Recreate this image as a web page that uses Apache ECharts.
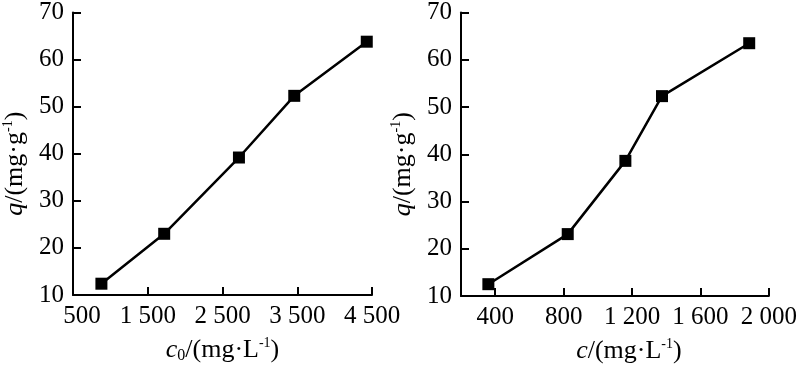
<!DOCTYPE html>
<html><head><meta charset="utf-8">
<script src="https://cdn.jsdelivr.net/npm/echarts@6/dist/echarts.min.js"></script>
<style>html,body{margin:0;padding:0;background:#fff}#c{width:800px;height:369px}</style>
</head><body><div id="c"></div>
<script>
// Left panel: q vs initial concentration c0
var c0Values = [880, 1720, 2720, 3460, 4430];
var qLeft = [12.4, 23.0, 39.2, 52.3, 63.8];
// Right panel: q vs equilibrium concentration c
var cValues = [360, 824, 1161, 1375, 1885];
var qRight = [12.5, 23.1, 38.6, 52.3, 63.5];
// Tick labels
var leftXTicks = [500, 1500, 2500, 3500, 4500];
var rightXTicks = [400, 800, 1200, 1600, 2000];
var yTicks = [10, 20, 30, 40, 50, 60, 70];

function fmt(v){ var s = String(v); return s.length > 3 ? s.slice(0, s.length-3) + ' ' + s.slice(-3) : s; }
function fmtLeft(v){ return v === leftXTicks[0] ? '{first|' + fmt(v) + '}' : fmt(v); }

var FONT = 'Liberation Serif';
var axisLine = {show:true, onZero:false, lineStyle:{color:'#000', width:2}};
var axisTick = {show:true, inside:true, length:8, lineStyle:{color:'#000', width:2}};
function lbl(extra){
  return Object.assign({color:'#000', fontFamily:FONT, fontSize:25, fontWeight:'normal'}, extra || {});
}
var rich = {
  it:{fontStyle:'italic', fontFamily:FONT, fontSize:26, color:'#000'},
  n:{fontFamily:FONT, fontSize:26, color:'#000'},
  sub:{fontFamily:FONT, fontSize:16, color:'#000', verticalAlign:'bottom', lineHeight:28},
  sup:{fontFamily:FONT, fontSize:14, color:'#000', verticalAlign:'top', lineHeight:28}
};

var chart = echarts.init(document.getElementById('c'), null, {renderer:'canvas'});
chart.setOption({
  backgroundColor:'#fff',
  animation:false,
  textStyle:{fontFamily:FONT, color:'#000'},
  grid:[
    {left:73, top:11, width:299, height:287},
    {left:461, top:9, width:319, height:289}
  ],
  xAxis:[
    {gridIndex:0, type:'value', min:leftXTicks[0], max:leftXTicks[leftXTicks.length-1], interval:1000,
     axisLine:axisLine, axisTick:axisTick, splitLine:{show:false},
     axisLabel:lbl({margin:9, formatter:fmtLeft,
       rich:{first:{fontFamily:FONT, fontSize:25, color:'#000', padding:[0,0,0,18]}}}),
     name:'{it|c}{sub|0}{n|/(mg·L}{sup|-1}{n|)}', nameLocation:'middle', nameGap:41,
     nameTextStyle:{rich:rich}},
    {gridIndex:1, type:'value', min:200, max:2000, interval:200,
     axisLine:axisLine,
     axisTick:Object.assign({}, axisTick, {customValues:rightXTicks}),
     splitLine:{show:false},
     axisLabel:lbl({margin:9, formatter:fmt, customValues:rightXTicks}),
     name:'{it|c}{n|/(mg·L}{sup|-1}{n|)}', nameLocation:'middle', nameGap:41,
     nameTextStyle:{rich:rich, padding:[0,0,0,28]}}
  ],
  yAxis:[
    {gridIndex:0, type:'value', min:yTicks[0], max:yTicks[yTicks.length-1], interval:10,
     axisLine:axisLine, axisTick:axisTick, splitLine:{show:false},
     axisLabel:lbl({margin:9}),
     name:'{it|q}{n|/(mg·g}{sup|-1}{n|)}', nameLocation:'middle', nameGap:44, nameRotate:90,
     nameTextStyle:{rich:rich, padding:[0,20,0,0]}},
    {gridIndex:1, type:'value', min:yTicks[0], max:yTicks[yTicks.length-1], interval:10,
     axisLine:axisLine, axisTick:axisTick, splitLine:{show:false},
     axisLabel:lbl({margin:9}),
     name:'{it|q}{n|/(mg·g}{sup|-1}{n|)}', nameLocation:'middle', nameGap:44, nameRotate:90,
     nameTextStyle:{rich:rich, padding:[0,20,0,0]}}
  ],
  series:[
    {type:'line', xAxisIndex:0, yAxisIndex:0, data:c0Values.map(function(x,i){return [x,qLeft[i]];}),
     symbol:'rect', symbolSize:12, lineStyle:{color:'#000', width:2.5}, itemStyle:{color:'#000'}},
    {type:'line', xAxisIndex:1, yAxisIndex:1, data:cValues.map(function(x,i){return [x,qRight[i]];}),
     symbol:'rect', symbolSize:12, lineStyle:{color:'#000', width:2.5}, itemStyle:{color:'#000'}}
  ]
});
</script></body></html>
